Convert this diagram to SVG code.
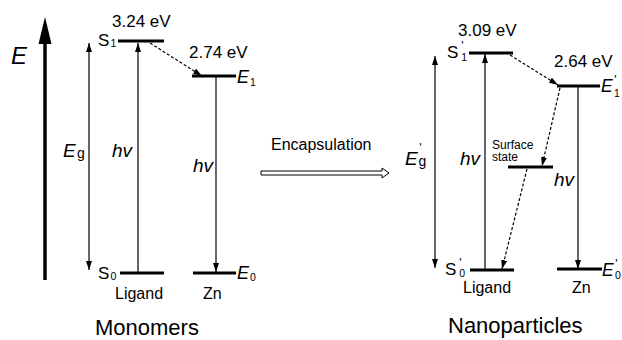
<svg xmlns="http://www.w3.org/2000/svg" width="622" height="340" viewBox="0 0 622 340">
<defs>
<marker id="head" markerUnits="userSpaceOnUse" markerWidth="10" markerHeight="6" refX="9" refY="3" orient="auto-start-reverse">
<path d="M0,0 L9,3 L0,6 z" fill="#000"/>
</marker>
</defs>
<style>
text{font-family:"Liberation Sans",Arial,sans-serif;fill:#000}
.it{font-style:italic}
.up{font-style:normal}
.lv{stroke:#000;stroke-width:3;fill:none}
.ar{stroke:#000;stroke-width:1.2;fill:none}
.ds{stroke:#000;stroke-width:1.2;fill:none;stroke-dasharray:3 2}
.v{font-size:17px}
.lab{font-size:16px}
.sub{font-size:10.5px}
.pr{font-size:12px}
.big{font-size:22px}
</style>

<g id="energy-axis">
<line x1="45" y1="280" x2="45" y2="40" stroke="#000" stroke-width="3.5"/>
<polygon points="45,17 38.5,44 51.5,44" fill="#000"/>
<text x="11" y="64" class="it" font-size="24">E</text>
</g>

<g id="connectors">
<line class="ar" x1="89" y1="270" x2="89" y2="43" marker-start="url(#head)" marker-end="url(#head)"/>
<line class="ar" x1="138" y1="272" x2="138" y2="43" marker-end="url(#head)"/>
<line class="ds" x1="150" y1="43" x2="202" y2="76" marker-end="url(#head)"/>
<line class="ar" x1="216" y1="77" x2="216" y2="272" marker-end="url(#head)"/>
<line class="ar" x1="435" y1="268" x2="435" y2="56" marker-start="url(#head)" marker-end="url(#head)"/>
<line class="ar" x1="485" y1="270" x2="485" y2="54" marker-end="url(#head)"/>
<line class="ds" x1="510" y1="55" x2="558" y2="85" marker-end="url(#head)"/>
<line class="ds" x1="560" y1="88" x2="542" y2="166" marker-end="url(#head)"/>
<line class="ds" x1="527" y1="169" x2="502" y2="269" marker-end="url(#head)"/>
<line class="ar" x1="578" y1="87" x2="578" y2="269" marker-end="url(#head)"/>
<polygon points="261,171 382,171 382,168 389,173 382,178 382,175 261,175" fill="#fff" stroke="#000" stroke-width="1"/>
</g>

<g id="eg-label">
<text x="63" y="157" class="it" font-size="19">E</text>
<text x="77" y="158" font-size="14">g</text>
<text x="112" y="157" class="it" font-size="19">hv</text>
<text x="193" y="172" class="it" font-size="19">hv</text>
</g>

<g id="S1">
<line class="lv" x1="118" y1="41" x2="164" y2="41"/>
<text x="98" y="46" class="v">S</text>
<text x="110.5" y="47" class="sub">1</text>
<text x="112" y="27" class="v">3.24 eV</text>
</g>

<g id="E1">
<line class="lv" x1="192" y1="76" x2="236" y2="76"/>
<text x="237" y="83" class="it" font-size="18">E</text>
<text x="250" y="86" class="sub">1</text>
<text x="189" y="58" class="v">2.74 eV</text>
</g>

<g id="S0">
<line class="lv" x1="120" y1="273" x2="164" y2="273"/>
<text x="98" y="279" class="v">S</text>
<text x="110.5" y="280" class="sub">0</text>
<text x="115" y="299" class="lab">Ligand</text>
</g>

<g id="E0">
<line class="lv" x1="193" y1="273" x2="236" y2="273"/>
<text x="237" y="279" class="it" font-size="18">E</text>
<text x="250" y="281" class="sub">0</text>
<text x="203" y="299" class="lab">Zn</text>
</g>

<text x="95" y="335" class="big">Monomers</text>

<text x="271" y="150" class="lab">Encapsulation</text>

<g id="eg-prime-label">
<text x="405" y="165" class="it" font-size="19">E<tspan class="up pr" dx="1.5" dy="-13">'</tspan><tspan class="up" font-size="14" dx="-3" dy="14">g</tspan></text>
<text x="460" y="165" class="it" font-size="19">hv</text>
<text x="554" y="186" class="it" font-size="19">hv</text>
</g>

<g id="S1p">
<line class="lv" x1="469" y1="53" x2="513" y2="53"/>
<text x="447" y="58" class="v">S<tspan class="pr" dx="3" dy="-8">'</tspan><tspan class="sub" dx="-2.5" dy="11">1</tspan></text>
<text x="458" y="36" class="v">3.09 eV</text>
</g>

<g id="E1p">
<line class="lv" x1="557" y1="86" x2="600" y2="86"/>
<text x="601" y="92" class="it" font-size="17.5">E<tspan class="up pr" dx="1.5" dy="-8">'</tspan><tspan class="up sub" dx="-2.5" dy="13">1</tspan></text>
<text x="554" y="67" class="v">2.64 eV</text>
</g>

<g id="surface-state">
<line class="lv" x1="508" y1="167" x2="553" y2="167"/>
<text x="492" y="149" font-size="12">Surface</text>
<text x="492" y="161" font-size="12">state</text>
</g>

<g id="S0p">
<line class="lv" x1="470" y1="270" x2="514" y2="270"/>
<text x="445" y="275" class="v">S<tspan class="pr" dx="3" dy="-8">'</tspan><tspan class="sub" dx="-2.5" dy="10">0</tspan></text>
<text x="463" y="293" class="lab">Ligand</text>
</g>

<g id="E0p">
<line class="lv" x1="557" y1="269" x2="602" y2="269"/>
<text x="602" y="276" class="it" font-size="17.5">E<tspan class="up pr" dx="1.5" dy="-8">'</tspan><tspan class="up sub" dx="-2.5" dy="11">0</tspan></text>
<text x="572" y="293" class="lab">Zn</text>
</g>

<text x="448" y="333" class="big">Nanoparticles</text>
</svg>
